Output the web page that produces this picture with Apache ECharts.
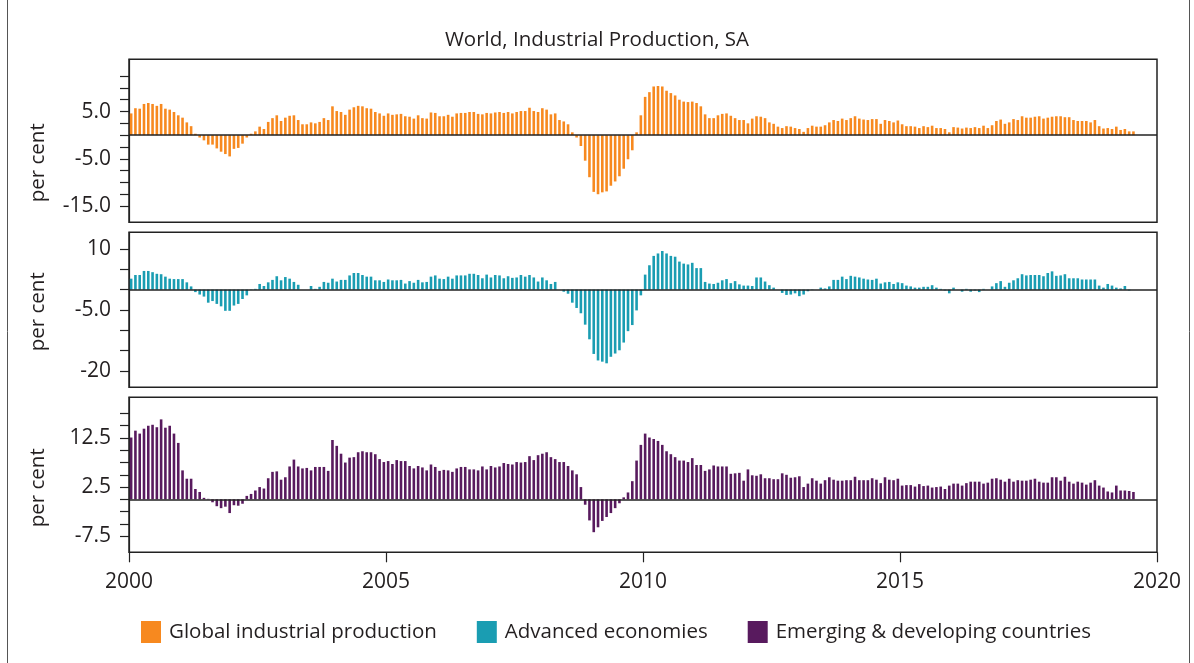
<!DOCTYPE html>
<html><head><meta charset="utf-8">
<script src="https://cdn.jsdelivr.net/npm/echarts@6/dist/echarts.min.js"></script>
<style>html,body{margin:0;padding:0;background:#fff}#c{width:1194px;height:663px}</style>
</head><body><div id="c"></div>
<script>
// ---- Data (monthly, year-on-year % change, Jan 2000 onwards) ----
const startYear = 2000;
const seriesNames = ['Global industrial production', 'Advanced economies', 'Emerging & developing countries'];
const colors = ['#F7891F', '#1A9DB2', '#581A5E'];

const globalIP = [
4.6,5.7,5.6,6.6,6.8,6.6,6.2,6.6,5.6,5.4,
4.9,4.2,3.7,2.7,1.9,0.3,-0.5,-1.1,-2.0,-2.0,
-2.8,-3.5,-4.0,-4.5,-2.9,-2.7,-1.8,-0.5,0.3,0.8,
1.8,1.3,2.8,3.6,4.2,3.0,3.7,4.1,4.2,3.2,
2.3,2.3,2.7,2.5,2.8,3.6,3.2,6.1,5.1,4.9,
4.3,5.4,5.9,6.2,6.1,5.7,5.6,4.9,4.6,4.1,
4.6,4.3,4.4,
4.5,4.0,3.9,3.5,4.2,3.6,3.5,4.8,4.7,4.0,
4.0,4.3,3.9,4.6,4.7,4.7,4.9,4.9,4.5,4.4,
4.7,4.6,4.8,4.9,4.7,4.9,4.6,4.9,5.1,5.1,
5.8,5.1,4.9,5.7,5.4,4.4,4.6,3.2,2.9,2.3,
0.6,-0.5,-2.3,-5.4,-8.9,-12.0,-12.5,-12.1,-11.9,-10.7,
-9.8,-8.7,-7.1,-5.1,-3.2,0.6,4.2,8.1,9.1,10.3,
10.4,10.3,9.4,8.9,8.4,7.5,7.1,7.0,7.1,6.8,
6.1,4.4,3.6,3.6,4.2,4.5,4.6,4.1,3.6,3.2,
3.2,2.5,3.5,4.0,3.9,3.6,2.7,2.4,1.8,1.5,
1.9,1.8,1.5,1.3,
0.7,1.5,2.0,1.8,1.8,2.1,2.7,3.2,3.0,3.5,
3.2,3.6,4.0,3.5,3.3,3.2,3.4,3.4,2.4,3.2,
3.0,2.7,3.1,2.3,1.9,1.9,1.8,1.5,1.9,1.7,
2.0,1.5,1.5,1.3,0.6,1.7,1.6,1.4,1.6,1.5,
1.7,1.5,2.0,1.5,2.1,3.0,3.3,2.4,2.7,3.4,
3.2,4.0,3.7,3.7,3.9,4.0,3.5,3.7,3.9,4.0,
4.0,3.8,3.8,3.2,3.0,3.0,3.0,2.7,3.2,1.9,
1.4,1.5,1.3,1.8,1.1,1.3,0.8,0.8
];

const advancedIP = [
2.7,3.6,3.6,4.6,4.6,4.3,3.9,3.8,3.2,2.7,
2.6,2.6,2.6,1.8,0.8,-0.6,-1.2,-1.7,-3.2,-2.8,
-3.5,-4.1,-5.2,-5.2,-3.9,-3.5,-2.3,-1.4,-0.1,0.2,
1.4,0.9,1.8,2.4,3.3,2.3,3.1,2.7,1.9,1.2,
0,0,0.9,0.2,0.7,1.9,1.7,2.7,2.0,2.4,
2.4,3.5,4.1,4.1,3.6,3.2,3.2,2.3,2.3,1.9,
2.5,2.3,2.3,
2.4,1.5,2.1,1.7,2.4,1.8,1.9,3.2,3.5,2.7,
2.6,3.2,2.7,3.5,3.5,3.5,3.9,3.9,3.6,2.8,
3.7,3.0,3.6,3.5,2.8,3.3,2.9,3.0,3.6,3.2,
3.6,3.0,2.0,3.0,2.3,1.4,1.9,0,-0.5,-1.0,
-3.2,-4.5,-5.8,-8.6,-12.2,-15.8,-17.4,-17.7,-18.1,-16.5,
-15.7,-14.9,-13.0,-10.2,-8.7,-5.1,-1.4,3.7,6.0,8.3,
8.9,9.5,8.9,8.3,8.1,6.9,6.4,6.2,6.6,5.3,
5.3,1.9,1.5,1.4,1.7,2.3,2.6,1.6,2.1,1.3,
1.0,1.0,0.9,3.0,3.0,2.0,1.1,0.5,0,-0.8,
-1.3,-1.2,-0.9,-1.6,
-1.2,-0.4,-0.1,0,0.5,0.3,0.8,2.4,2.4,3.2,
2.6,3.4,3.2,3.0,2.7,2.5,2.4,2.7,1.5,1.8,
1.9,1.4,1.8,1.6,1.0,0.8,0.5,0.5,0.7,0.7,
1.1,0.5,0.2,-0.2,-0.9,0.5,0,-0.5,0.2,-0.5,
-0.2,-0.6,0.2,0,0.8,1.6,2.1,0.7,1.7,2.3,
2.8,3.8,3.5,3.6,3.6,3.6,3.3,4.1,4.5,3.4,
3.5,3.8,2.8,2.8,2.8,2.5,2.5,2.5,2.5,1.0,
0.5,1.4,1.0,0.5,0.3,0.9,-0.2,0
];

const emergingIP = [
12.6,14.0,13.4,14.4,15.0,15.2,14.7,16.3,14.6,15.0,
13.4,11.5,5.9,4.2,4.2,2.1,1.5,0.3,0.1,-0.6,
-1.4,-1.8,-1.5,-2.8,-1.2,-1.3,-0.9,0.7,1.1,1.8,
2.5,2.2,4.3,5.6,5.7,4.0,4.5,6.7,8.1,6.7,
6.3,6.4,5.9,6.6,6.6,6.6,5.8,12.1,10.9,9.3,
7.5,8.5,8.6,9.6,9.8,9.6,9.6,9.2,8.2,7.6,
7.8,7.2,8.0,
7.8,7.8,6.8,6.3,6.8,6.5,5.9,7.1,6.6,5.8,
6.0,5.9,5.6,6.3,6.6,6.6,6.1,6.1,5.9,6.7,
6.1,6.8,6.5,6.7,7.4,7.2,7.1,7.6,7.5,7.6,
8.8,8.0,9.0,9.3,9.6,8.6,8.2,7.6,7.6,6.8,
5.9,5.1,2.5,-1.1,-4.3,-6.7,-5.7,-4.4,-3.6,-2.8,
-1.8,-0.8,0.4,1.4,3.7,7.9,11.1,13.4,12.6,12.3,
11.9,11.1,9.8,9.2,8.6,7.9,7.9,7.6,8.4,7.0,
7.0,5.8,6.1,6.9,6.7,6.7,6.7,5.2,5.3,5.4,
3.8,6.1,4.9,4.8,5.1,4.3,4.3,4.1,4.1,5.3,
5.0,4.4,4.5,4.7,
2.5,3.2,4.3,3.8,3.2,3.9,4.5,4.0,3.8,3.8,
3.9,3.9,4.6,3.9,3.9,3.9,4.3,4.0,3.3,4.5,
4.0,3.9,4.2,2.8,2.9,2.9,2.6,3.1,2.7,2.8,
2.4,2.5,2.6,2.1,2.8,3.2,3.2,2.8,3.3,3.6,
3.6,3.6,3.2,3.4,4.2,4.3,4.0,3.6,4.2,3.6,
3.9,3.8,3.8,4.0,4.2,3.6,3.4,3.4,4.5,4.5,
3.8,4.6,3.6,3.2,3.6,3.4,3.0,3.4,3.9,2.8,
2.4,1.6,1.4,2.8,1.8,1.8,1.7,1.5
];

// axis ticks and labels
const xTicks = [2000, 2005, 2010, 2015, 2020];
const y1Ticks = [-15, -12.5, -10, -7.5, -5, -2.5, 0, 2.5, 5, 7.5, 10, 12.5];
const y1Labels = {'5': '5.0', '-5': '-5.0', '-15': '-15.0'};
const y2Ticks = [-20, -15, -10, -5, 0, 5, 10];
const y2Labels = {'10': '10', '-5': '-5.0', '-20': '-20'};
const y3Ticks = [-7.5, -5, -2.5, 0, 2.5, 5, 7.5, 10, 12.5, 15, 17.5];
const y3Labels = {'12.5': '12.5', '2.5': '2.5', '-7.5': '-7.5'};

// ---- Build ----
const FONT = 'Open Sans';
const TXT = '#231F20';
function toPairs(arr) {
  return arr.map((v, i) => [startYear + (i + 0.5) / 12, v]);
}
const seriesData = [globalIP, advancedIP, emergingIP];
const labelSets = [y1Labels, y2Labels, y3Labels];
const tickSets = [y1Ticks, y2Ticks, y3Ticks];
const ranges = [[-18.44, 16.05], [-24.0, 14.1], [-10.8, 20.8]];
const namePad = [[0, 44, 0, 0], [0, 4, 0, 0], [0, 26, 0, 0]];

const grids = [
  {left: 129, top: 59.3, width: 1028, height: 163},
  {left: 129, top: 232.3, width: 1028, height: 155},
  {left: 129, top: 397.3, width: 1028, height: 155}
].map(g => Object.assign(g, {show: true, borderColor: '#222', borderWidth: 1.5, containLabel: false}));

const xAxes = [0, 1, 2].map(i => ({
  type: 'value', gridIndex: i, min: 2000, max: 2020, interval: 5,
  show: i === 2, position: 'bottom',
  axisLine: {show: false, onZero: false},
  axisTick: {show: i === 2, length: 10, lineStyle: {color: '#222', width: 1.2}, customValues: xTicks},
  axisLabel: {show: i === 2, customValues: xTicks, formatter: (v) => String(v),
    fontSize: 21, fontFamily: FONT, color: TXT, margin: 19},
  splitLine: {show: false}
}));

const yAxes = [0, 1, 2].map(i => ({
  type: 'value', gridIndex: i, min: ranges[i][0], max: ranges[i][1],
  name: 'per cent', nameLocation: 'middle', nameGap: 80,
  nameTextStyle: {fontSize: 20.5, fontFamily: FONT, color: TXT, padding: namePad[i]},
  axisLine: {show: true, lineStyle: {color: '#222', width: 1.2}},
  axisTick: {show: true, length: 9, inside: false, customValues: tickSets[i], lineStyle: {color: '#222', width: 1.2}},
  axisLabel: {
    customValues: Object.keys(labelSets[i]).map(Number),
    formatter: (v) => labelSets[i][String(v)] || '',
    fontSize: 21, fontFamily: FONT, color: TXT, margin: 18
  },
  splitLine: {show: false}
}));

const series = [0, 1, 2].map(i => ({
  name: seriesNames[i], type: 'bar', xAxisIndex: i, yAxisIndex: i,
  data: toPairs(seriesData[i]), barWidth: 2.6,
  itemStyle: {color: colors[i]},
  animation: false,
  markLine: {
    silent: true, symbol: ['none', 'none'], label: {show: false},
    lineStyle: {color: '#222', width: 1.5, type: 'solid'},
    data: [{yAxis: 0}]
  }
}));

const chart = echarts.init(document.getElementById('c'), null, {renderer: 'canvas'});
chart.setOption({
  animation: false,
  backgroundColor: '#fff',
  color: colors,
  title: {text: 'World, Industrial Production, SA', left: 'center', top: 25,
    textStyle: {fontSize: 20.5, fontWeight: 'normal', fontFamily: FONT, color: TXT}},
  legend: {
    data: seriesNames, left: 141, top: 621, padding: 0, icon: 'rect', itemWidth: 20, itemHeight: 22, itemGap: 40,
    textStyle: {fontSize: 20.5, fontFamily: FONT, color: TXT, padding: [0, 0, 0, 3]}
  },
  grid: grids, xAxis: xAxes, yAxis: yAxes, series: series,
  graphic: [{type: 'rect', silent: true, z: -1,
    shape: {x: 7.5, y: -2, width: 1182, height: 667},
    style: {fill: 'none', stroke: '#555', lineWidth: 1}}]
});
</script></body></html>
